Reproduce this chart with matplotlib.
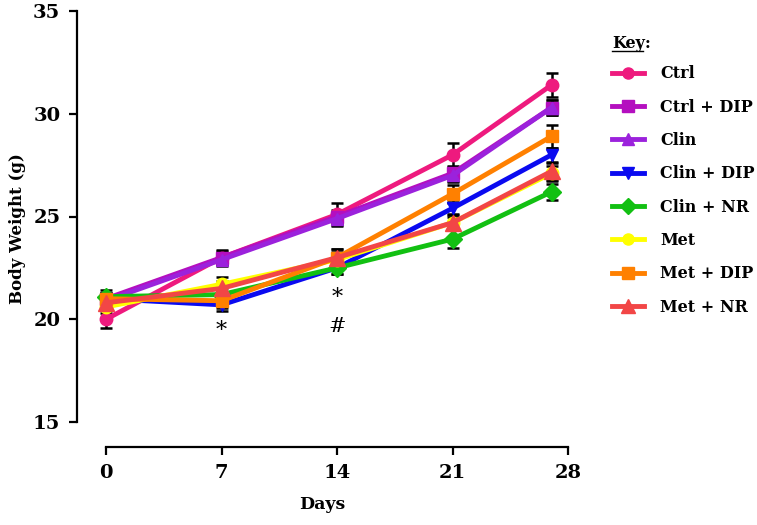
#!/usr/bin/env python3

'''
Body weight over time for the treatment groups.
'''

import matplotlib
matplotlib.use('Agg')
import matplotlib.pyplot as pl
from matplotlib.lines import Line2D

days=[0, 7, 14, 21, 27]

groups=['Ctrl', 'Ctrl + DIP', 'Clin', 'Clin + DIP', 'Clin + NR',
        'Met', 'Met + DIP', 'Met + NR']

ctrl=[20.0, 23.0, 25.1, 28.0, 31.4]
ctrl_dip=[21.0, 23.0, 25.0, 27.1, 30.3]
clin=[20.9, 22.9, 24.9, 27.0, 30.3]
clin_dip=[21.0, 20.7, 22.5, 25.4, 28.0]
clin_nr=[21.1, 21.2, 22.5, 23.9, 26.2]
met=[20.6, 21.7, 22.9, 24.7, 27.1]
met_dip=[21.0, 20.9, 23.0, 26.1, 28.9]
met_nr=[20.8, 21.5, 23.0, 24.7, 27.2]

ctrl_err=[0.45, 0.35, 0.55, 0.6, 0.6]
ctrl_dip_err=[0.3, 0.3, 0.3, 0.35, 0.35]
clin_err=[0.3, 0.3, 0.3, 0.3, 0.35]
clin_dip_err=[0.3, 0.3, 0.3, 0.3, 0.35]
clin_nr_err=[0.3, 0.3, 0.3, 0.45, 0.4]
met_err=[0.3, 0.35, 0.35, 0.3, 0.35]
met_dip_err=[0.3, 0.35, 0.4, 0.45, 0.55]
met_nr_err=[0.3, 0.35, 0.4, 0.35, 0.4]

values=[ctrl, ctrl_dip, clin, clin_dip, clin_nr, met, met_dip, met_nr]
errors=[ctrl_err, ctrl_dip_err, clin_err, clin_dip_err, clin_nr_err,
        met_err, met_dip_err, met_nr_err]

colors=['#EE1A7E', '#B40FBF', '#9B22DC', '#0A0AF0', '#12C012',
        '#FFFF00', '#FF8000', '#F24646']
markers=['o', 's', '^', 'v', 'D', 'o', 's', '^']
msizes=[9, 9, 9, 9, 9, 9, 9, 11]

font='DejaVu Serif'
pl.rcParams['font.family']=font
pl.rcParams['font.weight']='bold'

fig=pl.figure(figsize=(7.57,5.25), dpi=100)
ax=fig.add_axes([77/757, 1-447/525, 491/757, 436/525])

for y,e,c,m,ms,name in zip(values,errors,colors,markers,msizes,groups):
    ax.errorbar(days, y, yerr=e, color=c, marker=m, markersize=ms, lw=3.5,
                ecolor='black', elinewidth=1.8, capsize=4, capthick=1.8,
                label=name, clip_on=False)

# significance marks
ax.text(7, 19.45, '*', ha='center', va='center', fontsize=16, fontweight='normal')
ax.text(14, 21.05, '*', ha='center', va='center', fontsize=16, fontweight='normal')
ax.text(14, 19.65, '#', ha='center', va='center', fontsize=15, fontweight='normal')

ax.set_xlim(-1.76, 28)
ax.set_ylim(35-436/20.55, 35)
ax.set_xticks([0, 7, 14, 21, 28])
ax.set_yticks([15, 20, 25, 30, 35])
ax.spines['left'].set_bounds(15, 35)
ax.spines['bottom'].set_bounds(0, 28)
ax.spines['top'].set_visible(False)
ax.spines['right'].set_visible(False)
for s in ['left','bottom']:
    ax.spines[s].set_linewidth(1.6)
ax.tick_params(width=1.6, length=6, labelsize=14, pad=6)
for lab in ax.get_xticklabels()+ax.get_yticklabels():
    lab.set_fontweight('bold')

ax.set_xlabel('Days', fontsize=12.5, fontweight='bold', labelpad=10)
ax.set_ylabel('Body Weight (g)', fontsize=12, fontweight='bold', labelpad=5)

# legend
handles=[Line2D([0],[0], color=c, marker=m, markersize=ms-1, lw=3.5)
         for c,m,ms in zip(colors,markers,msizes)]
leg=fig.legend(handles, groups, loc='upper left',
               bbox_to_anchor=(612/757, 1-65.5/525), frameon=False,
               prop={'family': font, 'weight': 'bold', 'size': 11.5},
               handlelength=2.0, handletextpad=1.0, labelspacing=1.02,
               borderpad=0, borderaxespad=0)

fig.text(612/757, 1-43/525, 'Key:', fontsize=11.5, fontweight='bold',
         va='center', ha='left')
fig.add_artist(Line2D([612/757, 643/757], [1-51/525, 1-51/525],
                      color='black', lw=1.0))

pl.savefig('out.png', dpi=100)
